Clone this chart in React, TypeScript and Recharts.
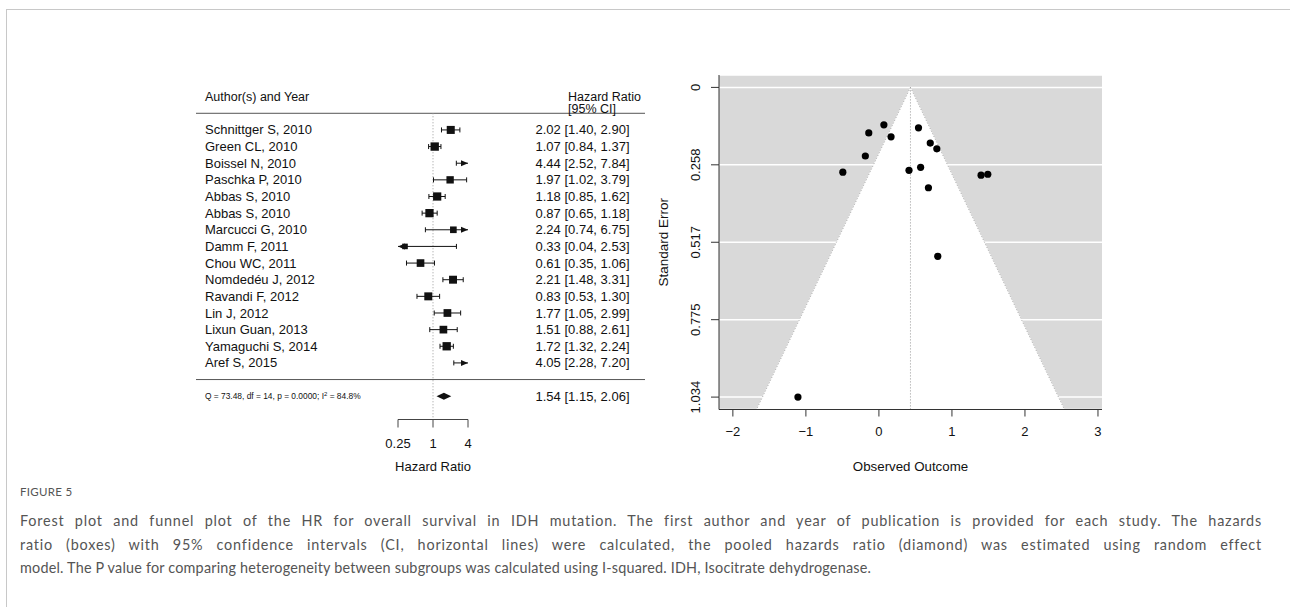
import React from 'react'
import { ScatterChart, Scatter, XAxis, YAxis, ReferenceLine, CartesianGrid } from 'recharts'

// forest plot data
const STUDY_LABELS = [
  'Schnittger S, 2010',
  'Green CL, 2010',
  'Boissel N, 2010',
  'Paschka P, 2010',
  'Abbas S, 2010',
  'Abbas S, 2010',
  'Marcucci G, 2010',
  'Damm F, 2011',
  'Chou WC, 2011',
  'Nomdedéu J, 2012',
  'Ravandi F, 2012',
  'Lin J, 2012',
  'Lixun Guan, 2013',
  'Yamaguchi S, 2014',
  'Aref S, 2015',
]
const HAZARD_RATIOS = [2.02, 1.07, 4.44, 1.97, 1.18, 0.87, 2.24, 0.33, 0.61, 2.21, 0.83, 1.77, 1.51, 1.72, 4.05]
const CI_LOWER = [1.4, 0.84, 2.52, 1.02, 0.85, 0.65, 0.74, 0.04, 0.35, 1.48, 0.53, 1.05, 0.88, 1.32, 2.28]
const CI_UPPER = [2.9, 1.37, 7.84, 3.79, 1.62, 1.18, 6.75, 2.53, 1.06, 3.31, 1.3, 2.99, 2.61, 2.24, 7.2]
const STUDY_WEIGHTS = [7.2, 8.0, 6.4, 5.6, 7.7, 7.8, 3.9, 1.4, 6.3, 7.0, 7.1, 6.5, 6.4, 7.9, 6.3]
const POOLED_HR = 1.54
const POOLED_LOWER = 1.15
const POOLED_UPPER = 2.06
const HR_TICKS = [0.25, 1, 4]
const HET_PREFIX = 'Q = 73.48, df = 14, p = 0.0000; I'
const HET_SUFFIX = ' = 84.8%'

// funnel plot data
const FUNNEL_EFFECTS = [0.703, 0.068, 1.491, 0.678, 0.166, -0.139, 0.806, -1.109, -0.494, 0.793, -0.186, 0.571, 0.412, 0.542, 1.399]
const FUNNEL_SE = [0.186, 0.125, 0.29, 0.335, 0.165, 0.152, 0.564, 1.034, 0.283, 0.205, 0.229, 0.267, 0.277, 0.135, 0.293]
const FUNNEL_CENTER = 0.432
const FUNNEL_BASE_SE = 1.0754
const FUNNEL_BASE_LEFT = -1.676
const FUNNEL_BASE_RIGHT = 2.54
const SE_TICKS = [0, 0.2585, 0.517, 0.7755, 1.034]
const SE_TICK_LABELS = ['0', '0.258', '0.517', '0.775', '1.034']
const OUTCOME_TICKS = [-2, -1, 0, 1, 2, 3]

const CAPTION_TITLE = 'FIGURE 5'
const CAPTION_LINES = [
  'Forest plot and funnel plot of the HR for overall survival in IDH mutation. The first author and year of publication is provided for each study. The hazards',
  'ratio (boxes) with 95% confidence intervals (CI, horizontal lines) were calculated, the pooled hazards ratio (diamond) was estimated using random effect',
  'model. The P value for comparing heterogeneity between subgroups was calculated using I-squared. IDH, Isocitrate dehydrogenase.',
]

const FONT = '"Liberation Sans", Arial, sans-serif'
const INK = '#111'
const POOLED_ROW = 17
const [ALIM_LO, ALIM_HI] = [HR_TICKS[0], HR_TICKS[HR_TICKS.length - 1]]
const FOREST_W = 449

const rows = STUDY_LABELS.map((label, i) => ({
  label,
  row: i + 1,
  hr: HAZARD_RATIOS[i],
  lo: CI_LOWER[i],
  hi: CI_UPPER[i],
  weight: STUDY_WEIGHTS[i],
}))
const boxes = rows.filter((r) => r.hr >= ALIM_LO && r.hr <= ALIM_HI)
const funnelPoints = FUNNEL_EFFECTS.map((effect, i) => ({ effect, se: FUNNEL_SE[i] }))
const fmt = (v: number) => v.toFixed(2)

function StudyTick(props: any) {
  const { y, payload } = props
  const v = payload.value
  if (v === -1) {
    return (
      <text x={9} y={y} dy="0.35em" fontSize={12.5} fontFamily={FONT} fill={INK}>
        Author(s) and Year
      </text>
    )
  }
  if (v === POOLED_ROW) {
    return (
      <text x={9} y={y} dy="0.35em" fontSize={8.4} fontFamily={FONT} fill={INK}>
        {HET_PREFIX}
        <tspan dy={-3} fontSize={6}>2</tspan>
        <tspan dy={3}>{HET_SUFFIX}</tspan>
      </text>
    )
  }
  return (
    <text x={9} y={y} dy="0.35em" fontSize={13} fontFamily={FONT} fill={INK}>
      {STUDY_LABELS[v - 1]}
    </text>
  )
}

function CiTick(props: any) {
  const { y, payload } = props
  const v = payload.value
  if (v === -1) {
    return (
      <g fontSize={12.5} fontFamily={FONT} fill={INK}>
        <text x={372} y={y} dy="0.35em">Hazard Ratio</text>
        <text x={372} y={y + 12} dy="0.35em">[95% CI]</text>
      </g>
    )
  }
  const text =
    v === POOLED_ROW
      ? `${fmt(POOLED_HR)} [${fmt(POOLED_LOWER)}, ${fmt(POOLED_UPPER)}]`
      : `${fmt(HAZARD_RATIOS[v - 1])} [${fmt(CI_LOWER[v - 1])}, ${fmt(CI_UPPER[v - 1])}]`
  return (
    <text x={433.5} y={y} dy="0.35em" textAnchor="end" fontSize={13} fontFamily={FONT} fill={INK}>
      {text}
    </text>
  )
}

function ciShape(leftArrow: boolean, rightArrow: boolean) {
  return (p: any) => {
    const { x1, x2, y1 } = p
    const y = y1
    return (
      <g>
        <line x1={x1} x2={x2} y1={y} y2={y} stroke={INK} strokeWidth={1} />
        {leftArrow ? (
          <polygon points={`${x1},${y} ${x1 + 7},${y - 3} ${x1 + 7},${y + 3}`} fill={INK} />
        ) : (
          <line x1={x1} x2={x1} y1={y - 2.5} y2={y + 2.5} stroke={INK} />
        )}
        {rightArrow ? (
          <polygon points={`${x2},${y} ${x2 - 7},${y - 3} ${x2 - 7},${y + 3}`} fill={INK} />
        ) : (
          <line x1={x2} x2={x2} y1={y - 2.5} y2={y + 2.5} stroke={INK} />
        )}
      </g>
    )
  }
}

const diamondShape = (p: any) => {
  const { x1, x2, y1 } = p
  const mid = (x1 + x2) / 2
  return <polygon points={`${x1},${y1} ${mid},${y1 - 3.5} ${x2},${y1} ${mid},${y1 + 3.5}`} fill={INK} />
}

const separatorShape = (p: any) => <line x1={0} x2={FOREST_W} y1={p.y1} y2={p.y1} stroke="#555" strokeWidth={1} />

const squareShape = (p: any) => {
  const side = 5 + p.payload.weight * 0.42
  return <rect x={p.cx - side / 2} y={p.cy - side / 2} width={side} height={side} fill={INK} />
}

function ForestPlot() {
  const yTicks = [-1, ...rows.map((r) => r.row), POOLED_ROW]
  return (
    <ScatterChart width={FOREST_W} height={420} margin={{ top: 20, right: 0, bottom: 0, left: 0 }}>
      <XAxis
        type="number"
        dataKey="hr"
        scale="log"
        domain={[ALIM_LO, ALIM_HI]}
        allowDataOverflow
        ticks={HR_TICKS}
        interval={0}
        tickFormatter={(v: number) => String(v)}
        height={60.5}
        tickSize={8}
        tickMargin={11}
        stroke="#444"
        tick={{ fill: INK, fontSize: 13, fontFamily: FONT }}
        label={{ value: 'Hazard Ratio', position: 'insideBottom', offset: 9, fill: INK, fontSize: 13, fontFamily: FONT }}
      />
      <YAxis
        yAxisId="left"
        type="number"
        dataKey="row"
        domain={[-2, 18.4]}
        reversed
        allowDataOverflow
        width={202}
        ticks={yTicks}
        interval={0}
        axisLine={false}
        tickLine={false}
        tick={(p: any) => <StudyTick {...p} />}
      />
      <YAxis
        yAxisId="right"
        orientation="right"
        type="number"
        domain={[-2, 18.4]}
        reversed
        allowDataOverflow
        width={177}
        ticks={yTicks}
        interval={0}
        axisLine={false}
        tickLine={false}
        tick={(p: any) => <CiTick {...p} />}
      />
      <ReferenceLine yAxisId="left" y={0} shape={separatorShape} />
      <ReferenceLine yAxisId="left" y={16} shape={separatorShape} />
      <ReferenceLine
        yAxisId="left"
        ifOverflow="visible"
        segment={[{ x: 1, y: 0 }, { x: 1, y: 18.4 }]}
        stroke="#999"
        strokeDasharray="1 2"
      />
      {rows.map((r) => (
        <ReferenceLine
          key={r.row}
          yAxisId="left"
          ifOverflow="visible"
          segment={[
            { x: Math.max(r.lo, ALIM_LO), y: r.row },
            { x: Math.min(r.hi, ALIM_HI), y: r.row },
          ]}
          shape={ciShape(r.lo < ALIM_LO, r.hi > ALIM_HI)}
        />
      ))}
      <ReferenceLine
        yAxisId="left"
        ifOverflow="visible"
        segment={[
          { x: POOLED_LOWER, y: POOLED_ROW },
          { x: POOLED_UPPER, y: POOLED_ROW },
        ]}
        shape={diamondShape}
      />
      <Scatter yAxisId="left" data={boxes} dataKey="row" shape={squareShape} isAnimationActive={false} />
    </ScatterChart>
  )
}

const halfFunnelShape = (p: any) => {
  const { x1, y1, x2, y2 } = p
  return (
    <g>
      <polygon points={`${x1},${y1} ${x2},${y2} ${x1},${y2}`} fill="#fff" stroke="#fff" strokeWidth={0.5} />
      <line x1={x1} y1={y1} x2={x2} y2={y2} stroke="#aaa" strokeDasharray="1 2" />
    </g>
  )
}

function SeTick(props: any) {
  const { x, y, payload } = props
  const label = SE_TICK_LABELS[SE_TICKS.indexOf(payload.value)]
  const tx = x - 9
  return (
    <text x={tx} y={y} transform={`rotate(-90 ${tx} ${y})`} textAnchor="middle" fontSize={13} fontFamily={FONT} fill={INK}>
      {label}
    </text>
  )
}

function SeTitle(props: any) {
  const vb = props.viewBox
  const tx = vb.x + 18
  const ty = vb.y + vb.height / 2
  return (
    <text x={tx} y={ty} transform={`rotate(-90 ${tx} ${ty})`} textAnchor="middle" fontSize={13.5} fontFamily={FONT} fill={INK}>
      Standard Error
    </text>
  )
}

function FunnelPlot() {
  return (
    <ScatterChart width={462} height={420} margin={{ top: 15, right: 10, bottom: 0, left: 0 }}>
      <CartesianGrid vertical={false} stroke="#fff" strokeWidth={1.5} fill="#d9d9d9" fillOpacity={1} />
      <XAxis
        type="number"
        dataKey="effect"
        domain={[-2.19, 3.055]}
        allowDataOverflow
        ticks={OUTCOME_TICKS}
        interval={0}
        height={70.5}
        tickSize={7}
        tickMargin={10}
        stroke="#333"
        tickFormatter={(v: number) => (v < 0 ? `\u2212${Math.abs(v)}` : String(v))}
        tick={{ fill: INK, fontSize: 13, fontFamily: FONT }}
        label={{ value: 'Observed Outcome', position: 'insideBottom', offset: 9, fill: INK, fontSize: 13.3, fontFamily: FONT }}
      />
      <YAxis
        type="number"
        dataKey="se"
        domain={[-0.0414, FUNNEL_BASE_SE]}
        reversed
        allowDataOverflow
        ticks={SE_TICKS}
        interval={0}
        width={69}
        tickSize={8}
        stroke="#333"
        tick={(p: any) => <SeTick {...p} />}
        label={<SeTitle />}
      />
      <ReferenceLine
        ifOverflow="visible"
        segment={[
          { x: FUNNEL_CENTER, y: 0 },
          { x: FUNNEL_BASE_LEFT, y: FUNNEL_BASE_SE },
        ]}
        shape={halfFunnelShape}
      />
      <ReferenceLine
        ifOverflow="visible"
        segment={[
          { x: FUNNEL_CENTER, y: 0 },
          { x: FUNNEL_BASE_RIGHT, y: FUNNEL_BASE_SE },
        ]}
        shape={halfFunnelShape}
      />
      <ReferenceLine
        ifOverflow="visible"
        segment={[
          { x: FUNNEL_CENTER, y: 0 },
          { x: FUNNEL_CENTER, y: FUNNEL_BASE_SE },
        ]}
        stroke="#999"
        strokeDasharray="1 2"
      />
      <Scatter
        data={funnelPoints}
        dataKey="se"
        shape={(p: any) => <circle cx={p.cx} cy={p.cy} r={3.6} fill="#000" />}
        isAnimationActive={false}
      />
    </ScatterChart>
  )
}

const captionFont = 'Lato, "Open Sans", sans-serif'

export default function App() {
  return (
    <div style={{ position: 'absolute', left: 0, top: 0, width: 1290, height: 607, background: '#fff', overflow: 'hidden' }}>
      <div style={{ position: 'absolute', left: 6, top: 9, right: 0, bottom: 0, borderTop: '1px solid #c8c8c8', borderLeft: '1px solid #c8c8c8' }} />
      <div style={{ position: 'absolute', left: 196, top: 60 }}>
        <ForestPlot />
      </div>
      <div style={{ position: 'absolute', left: 650, top: 60 }}>
        <FunnelPlot />
      </div>
      <div style={{ position: 'absolute', left: 20, top: 485, fontFamily: captionFont, fontSize: 11.5, color: '#555', letterSpacing: 0.3 }}>
        {CAPTION_TITLE}
      </div>
      {CAPTION_LINES.map((line, i) => {
        const last = i === CAPTION_LINES.length - 1
        return (
          <div
            key={i}
            style={{
              position: 'absolute',
              left: 20,
              top: 510 + i * 23.5,
              width: 1242,
              whiteSpace: 'nowrap',
              fontFamily: captionFont,
              fontSize: 14.4,
              lineHeight: '22px',
              color: '#555',
              letterSpacing: last ? 0.2 : 0.8,
              textAlign: 'justify',
              textAlignLast: last ? 'left' : 'justify',
            }}
          >
            {line}
          </div>
        )
      })}
    </div>
  )
}
